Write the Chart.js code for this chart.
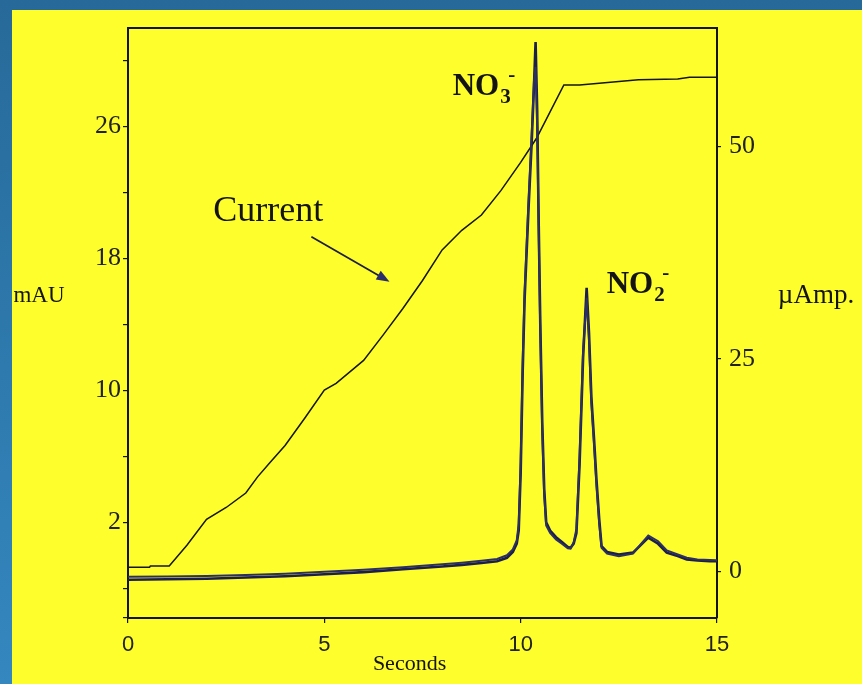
<!DOCTYPE html>
<html>
<head>
<meta charset="utf-8">
<script src="https://cdn.jsdelivr.net/npm/chart.js@4.4.1/dist/chart.umd.min.js"></script>
<style>
  html, body { margin: 0; padding: 0; }
  body { width: 862px; height: 684px; overflow: hidden; background: linear-gradient(180deg, #276a99 0%, #3487bf 100%); }
  #panel { position: absolute; left: 12px; top: 10px; width: 850px; height: 674px; background: #fefe2c; }
  canvas { display: block; }
</style>
</head>
<body>
<div id="panel"><canvas id="chart" width="850" height="674"></canvas></div>
<script>
// UV absorbance traces (mAU, left axis)
const uvTime = [0, 1, 2, 3, 4, 5, 6, 7, 8, 8.5, 9, 9.4, 9.65, 9.8, 9.9, 9.95, 10.0, 10.05, 10.1, 10.2, 10.28, 10.34, 10.38, 10.42, 10.46, 10.5, 10.55, 10.6, 10.65, 10.75, 10.9, 11.05, 11.2, 11.27, 11.35, 11.42, 11.5, 11.59, 11.68, 11.74, 11.8, 11.87, 11.93, 12.0, 12.06, 12.2, 12.5, 12.86, 13.05, 13.25, 13.5, 13.72, 14.0, 14.23, 14.5, 14.82, 15.0];
const uvTraceA = [-1.48, -1.45, -1.42, -1.35, -1.27, -1.15, -1.02, -0.85, -0.68, -0.58, -0.47, -0.36, -0.15, 0.2, 0.7, 1.5, 5, 11, 15.5, 21, 25, 28.5, 31.1, 27, 20, 14, 8, 4, 2.0, 1.5, 1.1, 0.8, 0.5, 0.45, 0.7, 1.35, 5.5, 12, 16.2, 13.5, 9.6, 7, 4.6, 2.2, 0.55, 0.2, 0.05, 0.16, 0.6, 1.07, 0.7, 0.16, -0.05, -0.26, -0.32, -0.36, -0.36];
const uvTraceB = [-1.3, -1.28, -1.25, -1.2, -1.12, -1.0, -0.88, -0.72, -0.55, -0.45, -0.33, -0.22, 0.0, 0.35, 0.9, 1.9, 5.6, 11.6, 16, 21.5, 25.5, 28.8, 29.6, 26, 19.4, 13.4, 7.4, 3.6, 1.8, 1.35, 0.95, 0.7, 0.42, 0.4, 0.8, 1.6, 6, 12.4, 15.6, 13, 9.2, 6.6, 4.2, 1.9, 0.45, 0.1, -0.05, 0.1, 0.65, 1.2, 0.85, 0.3, 0.05, -0.15, -0.25, -0.28, -0.3];

// current trace (µAmp, right axis)
const currentTime = [0, 0.55, 0.57, 1.05, 1.5, 2, 2.5, 3, 3.3, 3.6, 4, 4.5, 5, 5.3, 6, 6.5, 7, 7.5, 8, 8.5, 9, 9.5, 10, 10.4, 10.7, 11.1, 11.5, 12, 12.5, 13, 14, 14.3, 15];
const currentValues = [0.47, 0.47, 0.62, 0.62, 3.06, 6.1, 7.5, 9.2, 11.1, 12.7, 14.8, 18, 21.3, 22.1, 24.8, 27.8, 30.9, 34.2, 37.8, 40.1, 41.9, 44.8, 48.1, 50.9, 53.6, 57.2, 57.2, 57.4, 57.6, 57.8, 57.9, 58.1, 58.1];

// axes
const mauTicks = [-3.8, -2, 2, 6, 10, 14, 18, 22, 26, 30];
const mauLabels = [2, 10, 18, 26];
const ampTicks = [0, 25, 50];

const serif = '"Liberation Serif", "Times New Roman", serif';
const ink = "#141414";
const traceInk = "#1c1e4c";

function toPoints(xs, ys) {
  return xs.map((x, i) => ({ x: x, y: ys[i] }));
}

// fixed axis sizes so the plot frame sits where the original does
function fixWidth(w) {
  return s => { s.width = w; s.paddingTop = 0; s.paddingBottom = 0; };
}

function drawIon(ctx, base, sub, x, y) {
  ctx.textAlign = "left";
  ctx.textBaseline = "alphabetic";
  ctx.font = "bold 31px " + serif;
  ctx.fillText(base, x, y);
  const w = ctx.measureText(base).width;
  ctx.font = "bold 21px " + serif;
  ctx.fillText(sub, x + w + 1, y + 8);
  ctx.fillText("-", x + w + 9, y - 14);
}

const notesPlugin = {
  id: "notes",
  afterDatasetsDraw(chart) {
    const { ctx, chartArea, scales } = chart;
    const x = scales.x, y = scales.y;
    ctx.save();
    ctx.fillStyle = ink;

    // axis names
    ctx.textAlign = "center";
    ctx.textBaseline = "middle";
    ctx.font = "23px " + serif;
    ctx.fillText("mAU", chartArea.left - 89, y.getPixelForValue(15.7));
    ctx.font = "27px " + serif;
    ctx.fillText("\u00b5Amp.", chartArea.right + 99, y.getPixelForValue(15.7));
    ctx.font = "22px " + serif;
    ctx.fillText("Seconds", x.getPixelForValue(7.17), chartArea.bottom + 46);

    // "Current" label and arrow
    ctx.font = "36px " + serif;
    ctx.fillText("Current", x.getPixelForValue(3.57), y.getPixelForValue(20.8));
    const x0 = x.getPixelForValue(4.67), y0 = y.getPixelForValue(19.3);
    const x1 = x.getPixelForValue(6.66), y1 = y.getPixelForValue(16.58);
    const ang = Math.atan2(y1 - y0, x1 - x0);
    ctx.strokeStyle = "#1c1c3c";
    ctx.lineWidth = 1.7;
    ctx.beginPath();
    ctx.moveTo(x0, y0);
    ctx.lineTo(x1 - 10 * Math.cos(ang), y1 - 10 * Math.sin(ang));
    ctx.stroke();
    ctx.fillStyle = "#2a2d6a";
    ctx.beginPath();
    ctx.moveTo(x1, y1);
    ctx.lineTo(x1 - 13 * Math.cos(ang) + 5 * Math.sin(ang), y1 - 13 * Math.sin(ang) - 5 * Math.cos(ang));
    ctx.lineTo(x1 - 13 * Math.cos(ang) - 5 * Math.sin(ang), y1 - 13 * Math.sin(ang) + 5 * Math.cos(ang));
    ctx.closePath();
    ctx.fill();

    // peak labels
    ctx.fillStyle = ink;
    drawIon(ctx, "NO", "3", x.getPixelForValue(8.27), y.getPixelForValue(27.9));
    drawIon(ctx, "NO", "2", x.getPixelForValue(12.19), y.getPixelForValue(15.9));
    ctx.restore();
  }
};

new Chart(document.getElementById("chart"), {
  type: "line",
  data: {
    datasets: [
      {
        data: toPoints(uvTime, uvTraceB),
        yAxisID: "y",
        borderColor: "#2c2f62",
        borderWidth: 2,
        pointRadius: 0,
        tension: 0
      },
      {
        data: toPoints(uvTime, uvTraceA),
        yAxisID: "y",
        borderColor: traceInk,
        borderWidth: 2.6,
        pointRadius: 0,
        tension: 0
      },
      {
        data: toPoints(currentTime, currentValues),
        yAxisID: "y1",
        borderColor: ink,
        borderWidth: 1.5,
        pointRadius: 0,
        tension: 0
      }
    ]
  },
  options: {
    responsive: false,
    animation: false,
    events: [],
    layout: { padding: 0, autoPadding: false },
    plugins: { legend: { display: false }, tooltip: { enabled: false } },
    scales: {
      x: {
        type: "linear",
        position: "bottom",
        min: 0,
        max: 15,
        afterFit: s => { s.height = 66; },
        ticks: { stepSize: 5, color: "#222", padding: 9, maxRotation: 0, font: { family: '"Liberation Sans", Arial, sans-serif', size: 22 } },
        grid: { drawOnChartArea: false, drawTicks: true, tickLength: 5, color: ink, lineWidth: 1.2 },
        border: { color: ink, width: 2 }
      },
      x2: {
        type: "linear",
        position: "top",
        min: 0,
        max: 15,
        afterFit: s => { s.height = 18; },
        ticks: { display: false },
        grid: { display: false },
        border: { color: ink, width: 2 }
      },
      y: {
        type: "linear",
        position: "left",
        min: -3.8,
        max: 31.95,
        afterFit: fixWidth(116),
        afterBuildTicks: s => { s.ticks = mauTicks.map(v => ({ value: v })); },
        ticks: {
          autoSkip: false,
          color: "#222",
          padding: 2,
          font: { family: serif, size: 26 },
          callback: v => (mauLabels.includes(v) ? String(v) : "")
        },
        grid: { drawOnChartArea: false, drawTicks: true, tickLength: 5, color: ink, lineWidth: 1.2 },
        border: { color: ink, width: 2 }
      },
      y1: {
        type: "linear",
        position: "right",
        min: -5.5,
        max: 63.9,
        afterFit: fixWidth(145),
        afterBuildTicks: s => { s.ticks = ampTicks.map(v => ({ value: v })); },
        ticks: { autoSkip: false, color: "#222", padding: 8, font: { family: serif, size: 26 } },
        grid: { drawOnChartArea: false, drawTicks: true, tickLength: 4, color: ink, lineWidth: 1.2 },
        border: { color: ink, width: 2 }
      }
    }
  },
  plugins: [notesPlugin]
});
</script>
</body>
</html>
